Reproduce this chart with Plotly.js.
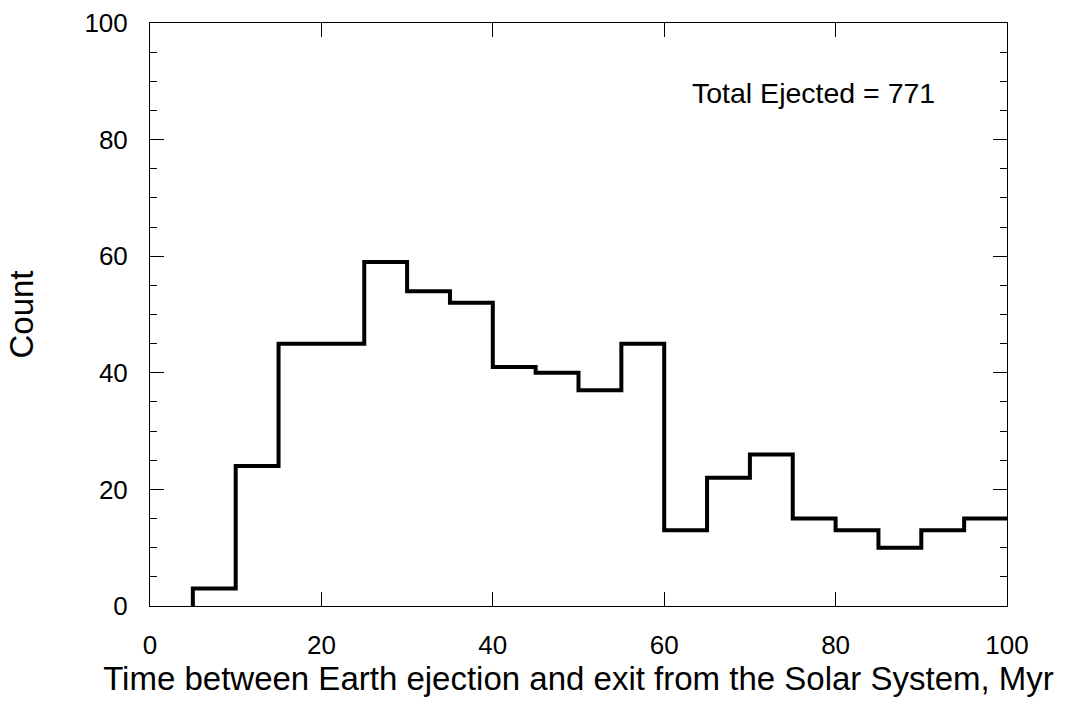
<!DOCTYPE html>
<html>
<head>
<meta charset="utf-8">
<script src="https://cdn.plot.ly/plotly-3.0.1.min.js"></script>
<style>html,body{margin:0;padding:0;background:#fff;}#chart{width:1067px;height:713px;}</style>
</head>
<body>
<div id="chart"></div>
<script>
// Histogram bins (Myr) and counts
const binStarts = [5, 10, 15, 20, 25, 30, 35, 40, 45, 50, 55, 60, 65, 70, 75, 80, 85, 90, 95];
const binWidth = 5;
const counts = [3, 24, 45, 45, 59, 54, 52, 41, 40, 37, 45, 13, 22, 26, 15, 13, 10, 13, 15];
const annotationText = "Total Ejected = 771";
const xTicks = [0, 20, 40, 60, 80, 100];
const yTicks = [0, 20, 40, 60, 80, 100];

// Build step outline: start at baseline, then each bin, ending at last bin edge
const sx = [binStarts[0]].concat(binStarts, [binStarts[binStarts.length - 1] + binWidth]);
const sy = [0].concat(counts, [counts[counts.length - 1]]);

const font = "Liberation Sans, Arial, Helvetica, sans-serif";

const trace = {
  x: sx, y: sy, type: 'scatter', mode: 'lines',
  line: {shape: 'hv', color: '#000', width: 4},
  hoverinfo: 'skip', showlegend: false
};

const layout = {
  width: 1067, height: 713,
  margin: {l: 150, r: 60, t: 23, b: 107},
  paper_bgcolor: '#fff', plot_bgcolor: '#fff',
  font: {family: font, color: '#000', size: 26},
  showlegend: false,
  xaxis: {
    range: [0, 100], tickvals: xTicks, ticktext: xTicks.map(String),
    ticks: 'inside', ticklen: 14, tickwidth: 1, tickcolor: '#000',
    showline: true, linecolor: '#000', linewidth: 1, mirror: 'ticks',
    showgrid: false, zeroline: false,
    tickfont: {family: font, size: 26, color: '#000'},
    ticklabelstandoff: 16,
    title: {text: 'Time between Earth ejection and exit from the Solar System, Myr',
            font: {family: font, size: 33, color: '#000'}, standoff: 7}
  },
  yaxis: {
    range: [0, 100], tickvals: yTicks, ticktext: yTicks.map(String),
    ticks: 'inside', ticklen: 14, tickwidth: 1, tickcolor: '#000',
    minor: {dtick: 5, tick0: 0, ticks: 'inside', ticklen: 7, tickwidth: 1, tickcolor: '#000', showgrid: false},
    showline: true, linecolor: '#000', linewidth: 1, mirror: 'ticks',
    showgrid: false, zeroline: false,
    tickfont: {family: font, size: 26, color: '#000'},
    ticklabelstandoff: 16,
    title: {text: 'Count', font: {family: font, size: 33, color: '#000'}, standoff: 40}
  },
  annotations: [{
    x: 91.8, y: 88.0, xref: 'x', yref: 'y', text: annotationText, showarrow: false,
    xanchor: 'right', yanchor: 'middle',
    font: {family: font, size: 28.5, color: '#000'}
  }]
};

Plotly.newPlot('chart', [trace], layout, {staticPlot: true, displayModeBar: false});
</script>
</body>
</html>
